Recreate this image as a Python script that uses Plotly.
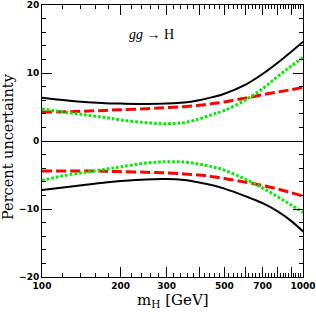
import plotly.graph_objects as go

mass = [100, 125, 150, 175, 200, 250, 300, 350, 400, 450, 500, 600, 700, 800, 900, 1000]

black_upper = [6.35, 5.95, 5.7, 5.55, 5.5, 5.45, 5.5, 5.65, 6.0, 6.45, 6.95, 8.25, 9.85, 11.5, 13.1, 14.6]
green_upper = [4.7, 4.2, 3.8, 3.45, 3.1, 2.7, 2.55, 2.7, 3.25, 3.9, 4.5, 6.0, 7.7, 9.5, 11.0, 12.3]
red_upper = [4.25, 4.3, 4.4, 4.5, 4.6, 4.75, 4.9, 5.05, 5.25, 5.5, 5.75, 6.3, 6.8, 7.2, 7.55, 7.9]

black_lower = [-7.2, -6.75, -6.4, -6.1, -5.9, -5.65, -5.6, -5.75, -6.1, -6.5, -7.0, -8.1, -9.15, -10.35, -11.75, -13.3]
green_lower = [-5.8, -5.0, -4.55, -4.15, -3.8, -3.25, -3.05, -3.1, -3.4, -3.8, -4.3, -5.6, -6.9, -8.2, -9.4, -10.5]
red_lower = [-4.4, -4.4, -4.4, -4.45, -4.5, -4.6, -4.7, -4.85, -5.0, -5.25, -5.5, -6.05, -6.55, -7.05, -7.6, -8.1]

x_major = [100, 200, 300, 400, 500, 600, 700, 800, 900, 1000]
x_major_text = ["100", "200", "300", "", "500", "", "700", "", "", "1000"]
x_minor = [v for v in range(120, 1000, 20) if v % 100 != 0]
y_major = [-20, -10, 0, 10, 20]
y_minor = [v for v in range(-18, 20, 2) if v % 10 != 0]

fig = go.Figure()

styles = {
    "black": dict(color="black", width=2, dash="solid"),
    "red": dict(color="#ff0000", width=3, dash="10px,4px"),
    "green": dict(color="#00ee00", width=3, dash="2.7px,2px"),
}

for ys, st in [(black_upper, "black"), (red_upper, "red"), (green_upper, "green"),
               (black_lower, "black"), (red_lower, "red"), (green_lower, "green")]:
    fig.add_trace(go.Scatter(x=mass, y=ys, mode="lines",
                             line=dict(shape="spline", smoothing=1.0, **styles[st]),
                             showlegend=False, hoverinfo="skip"))

fig.add_annotation(text="<i>gg</i> \u2192 H", xref="paper", yref="paper",
                   x=0.418, y=0.893, showarrow=False,
                   xanchor="center", yanchor="middle",
                   font=dict(family="Liberation Serif", size=14, color="black"))

fig.add_annotation(text="Percent uncertainty", xref="paper", yref="paper",
                   x=-0.128, y=0.48, textangle=-90, showarrow=False,
                   xanchor="center", yanchor="middle",
                   font=dict(family="DejaVu Serif", size=14.5, color="black"))

fig.add_annotation(text="m<sub>H</sub> [GeV]", xref="paper", yref="paper",
                   x=0.5, y=-0.085, showarrow=False,
                   xanchor="center", yanchor="middle",
                   font=dict(family="DejaVu Serif", size=15, color="black"))

tickfont = dict(family="DejaVu Sans", size=9, weight="bold", color="black")

fig.update_xaxes(type="log", range=[2, 3], showgrid=False, automargin=False,
                 showline=True, linecolor="black", linewidth=1, mirror="ticks",
                 ticks="inside", ticklen=10, tickwidth=1, tickcolor="black",
                 tickmode="array", tickvals=x_major, ticktext=x_major_text,
                 tickfont=tickfont, ticklabeloverflow="allow",
                 minor=dict(tickmode="array", tickvals=x_minor, ticks="inside",
                            ticklen=4, tickwidth=1, tickcolor="black", showgrid=False),
                 zeroline=False)

fig.update_yaxes(range=[-20, 20], showgrid=False, automargin=False,
                 showline=True, linecolor="black", linewidth=1, mirror="ticks",
                 ticks="inside", ticklen=10, tickwidth=1, tickcolor="black",
                 tickmode="array", tickvals=y_major,
                 ticktext=["\u221220", "\u221210", "0", "10", "20"],
                 tickfont=tickfont, ticklabeloverflow="allow",
                 minor=dict(tickmode="array", tickvals=y_minor, ticks="inside",
                            ticklen=4, tickwidth=1, tickcolor="black", showgrid=False),
                 zeroline=True, zerolinecolor="black", zerolinewidth=1)

fig.update_layout(width=316, height=312,
                  margin=dict(l=42, r=13, t=5, b=35),
                  paper_bgcolor="white", plot_bgcolor="white")

fig.write_html("out.html", config={"displayModeBar": False},
               post_script="document.body.style.margin='0';document.body.style.overflow='hidden';")
